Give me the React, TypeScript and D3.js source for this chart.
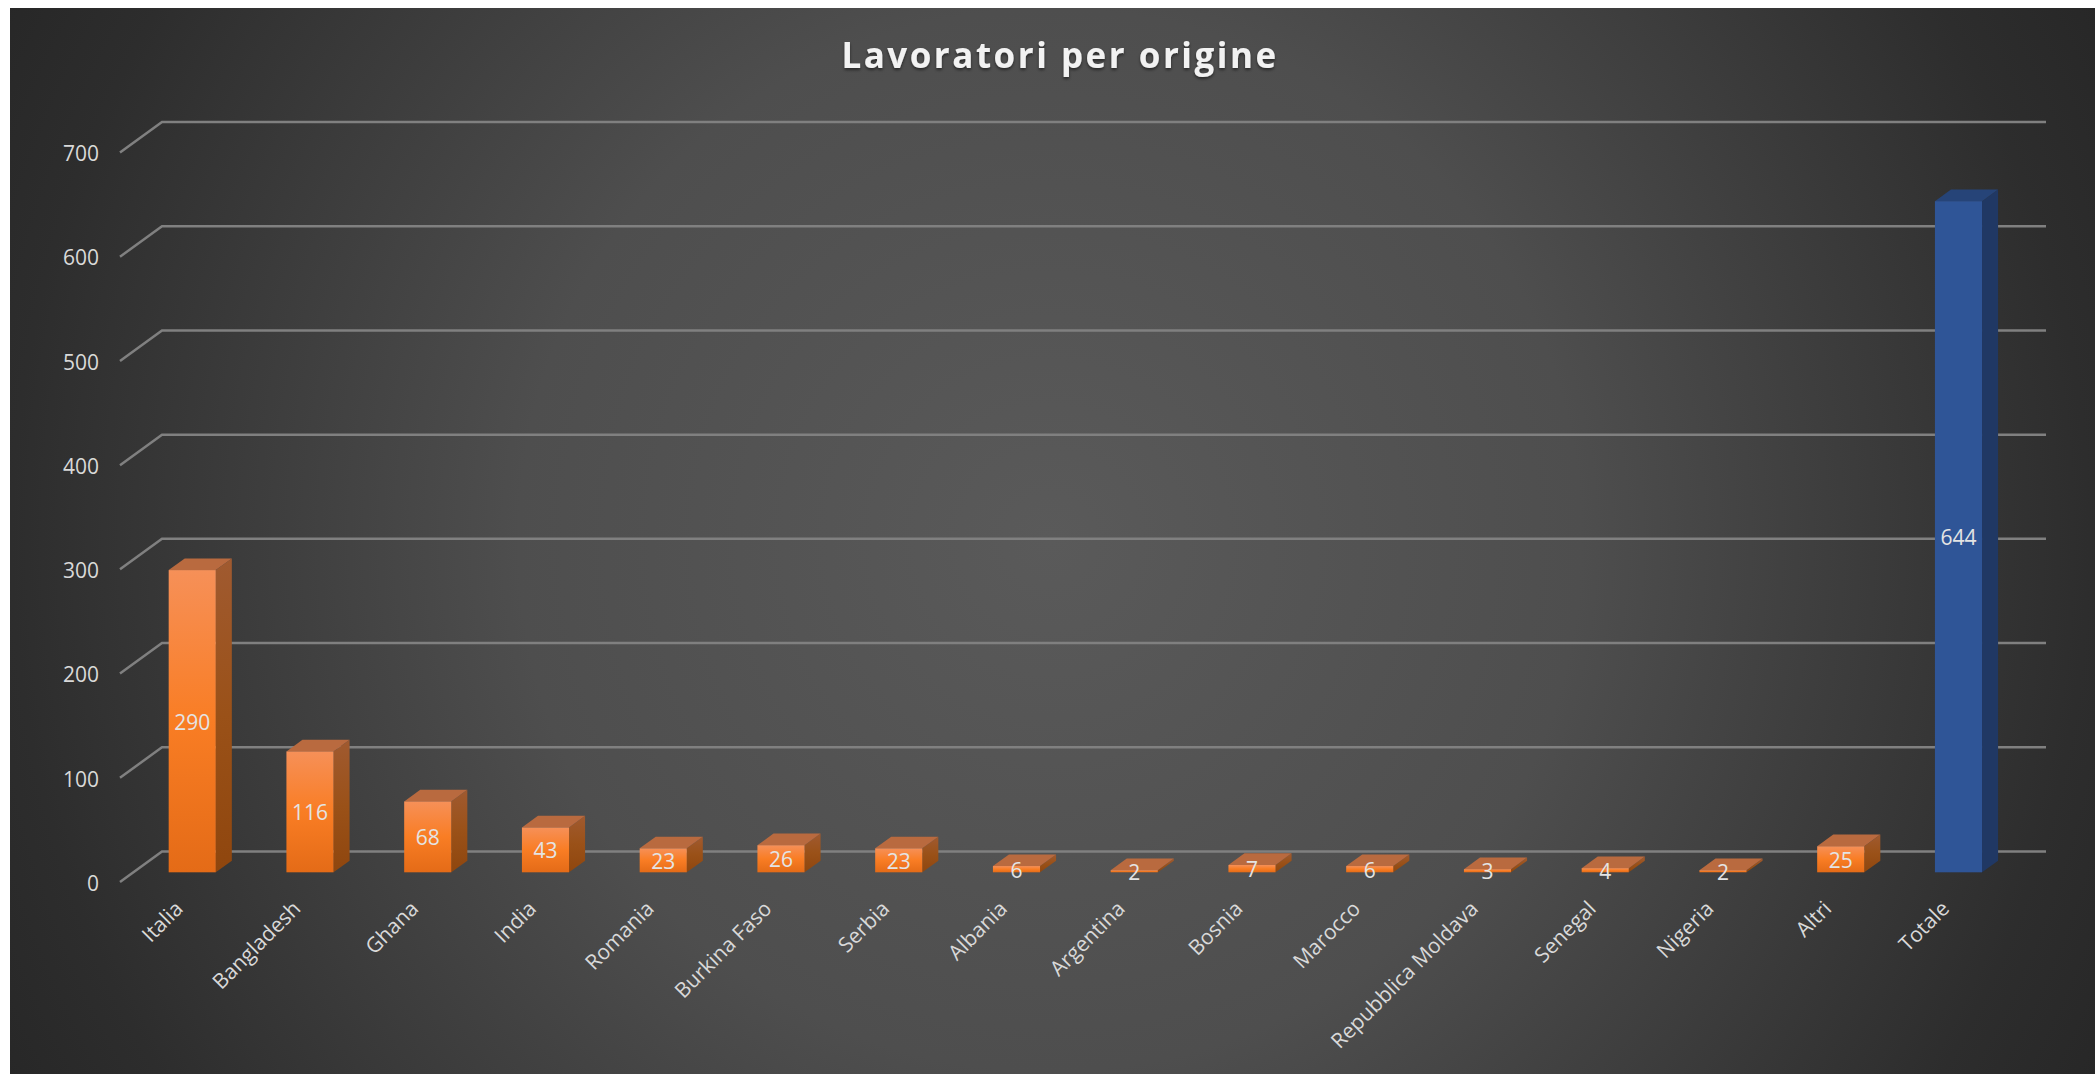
import React, { useEffect, useRef } from "react";
import * as d3 from "d3";

const title = "Lavoratori per origine";
const categories = [
  "Italia", "Bangladesh", "Ghana", "India", "Romania", "Burkina Faso", "Serbia", "Albania",
  "Argentina", "Bosnia", "Marocco", "Repubblica Moldava", "Senegal", "Nigeria", "Altri", "Totale",
];
const values = [290, 116, 68, 43, 23, 26, 23, 6, 2, 7, 6, 3, 4, 2, 25, 644];
const yTicks = [0, 100, 200, 300, 400, 500, 600, 700];
const totalCategory = "Totale";

const App = () => {
  const svgRef = useRef<SVGSVGElement>(null);

  useEffect(() => {
    const width = 2095;
    const height = 1074;
    const svg = d3.select(svgRef.current);
    svg.selectAll("*").remove();
    const font = "'Open Sans', sans-serif";

    // Front plane of the 3D box, depth goes up and to the right
    const plot = { left: 120, right: 2004, floor: 882, top: 152.5 };
    const depth = { x: 42, y: -30.5 };
    const barDepth = { front: 0.318, back: 0.7 };

    const x = d3.scaleBand<string>().domain(categories).range([plot.left, plot.right]).paddingInner(0.6).paddingOuter(0.3);
    const y = d3.scaleLinear().domain([0, 700]).range([plot.floor, plot.top]);
    const px = (vx: number, z: number) => vx + depth.x * z;
    const py = (v: number, z: number) => y(v) + depth.y * z;

    const defs = svg.append("defs");
    const bg = defs
      .append("radialGradient")
      .attr("id", "bg")
      .attr("gradientUnits", "userSpaceOnUse")
      .attr("cx", 1050)
      .attr("cy", 540)
      .attr("r", 1180);
    [
      [0, "#5a5a5a"],
      [0.45, "#4e4e4e"],
      [0.88, "#2d2d2d"],
      [1, "#272727"],
    ].forEach(([o, c]) => bg.append("stop").attr("offset", o).attr("stop-color", c));

    const addLinear = (id: string, stops: [number, string][]) => {
      const g = defs.append("linearGradient").attr("id", id).attr("x1", 0).attr("x2", 0).attr("y1", 0).attr("y2", 1);
      stops.forEach(([o, c]) => g.append("stop").attr("offset", o).attr("stop-color", c));
    };
    addLinear("orangeFront", [
      [0, "#f69058"],
      [0.5, "#f97d24"],
      [1, "#e46b17"],
    ]);
    addLinear("orangeSide", [
      [0, "#a05a30"],
      [0.5, "#9a5118"],
      [1, "#8f460e"],
    ]);

    const shadow = defs.append("filter").attr("id", "titleShadow").attr("x", "-5%").attr("y", "-20%").attr("width", "110%").attr("height", "150%");
    shadow.append("feDropShadow").attr("dx", 0).attr("dy", 2).attr("stdDeviation", 1.5).attr("flood-color", "#000").attr("flood-opacity", 0.5);

    svg.append("rect").attr("x", 10).attr("y", 8).attr("width", width - 10).attr("height", height - 8).attr("fill", "url(#bg)");

    svg
      .append("text")
      .attr("x", 1060)
      .attr("y", 68)
      .attr("text-anchor", "middle")
      .attr("font-family", font)
      .attr("font-weight", 700)
      .attr("font-size", 35)
      .attr("letter-spacing", 2.5)
      .attr("fill", "#f2f2f2")
      .attr("filter", "url(#titleShadow)")
      .text(title);

    // Gridlines: side wall then back wall
    const gridLine = d3.line();
    svg
      .append("g")
      .selectAll("path")
      .data(yTicks)
      .join("path")
      .attr("fill", "none")
      .attr("stroke", "#808080")
      .attr("stroke-width", 2.5)
      .attr("d", (d) =>
        gridLine([
          [plot.left, y(d)],
          [px(plot.left, 1), py(d, 1)],
          [px(plot.right, 1), py(d, 1)],
        ])
      );

    // Value axis labels
    const yAxis = svg
      .append("g")
      .attr("transform", `translate(${plot.left - 21},1.5)`)
      .call(d3.axisLeft(y).tickValues(yTicks).tickSize(0).tickPadding(0));
    yAxis.select(".domain").remove();
    yAxis.selectAll("text").attr("font-family", font).attr("font-size", 21).attr("fill", "#d9d9d9");

    // Bars
    const bars = svg
      .append("g")
      .selectAll("g")
      .data(categories.map((c, i) => ({ c, v: values[i] })))
      .join("g");
    const isTotal = (d: { c: string }) => d.c === totalCategory;
    const x0 = (d: { c: string }) => x(d.c)!;
    const x1 = (d: { c: string }) => x(d.c)! + x.bandwidth();
    const z0 = barDepth.front;
    const z1 = barDepth.back;

    bars
      .append("path")
      .attr("fill", (d) => (isTotal(d) ? "#203864" : "url(#orangeSide)"))
      .attr(
        "d",
        (d) =>
          gridLine([
            [px(x1(d), z0), py(d.v, z0)],
            [px(x1(d), z1), py(d.v, z1)],
            [px(x1(d), z1), py(0, z1)],
            [px(x1(d), z0), py(0, z0)],
          ]) + "Z"
      );
    bars
      .append("path")
      .attr("fill", (d) => (isTotal(d) ? "#264478" : "#b96a3f"))
      .attr(
        "d",
        (d) =>
          gridLine([
            [px(x0(d), z0), py(d.v, z0)],
            [px(x0(d), z1), py(d.v, z1)],
            [px(x1(d), z1), py(d.v, z1)],
            [px(x1(d), z0), py(d.v, z0)],
          ]) + "Z"
      );
    bars
      .append("rect")
      .attr("x", (d) => px(x0(d), z0))
      .attr("y", (d) => py(d.v, z0))
      .attr("width", x.bandwidth())
      .attr("height", (d) => y(0) - y(d.v))
      .attr("fill", (d) => (isTotal(d) ? "#2f5597" : "url(#orangeFront)"));

    // Data labels, centred on the front face
    bars
      .append("text")
      .attr("x", (d) => px(x0(d), z0) + x.bandwidth() / 2)
      .attr("y", (d) => py(d.v / 2, z0) + 1)
      .attr("dy", "0.35em")
      .attr("text-anchor", "middle")
      .attr("font-family", font)
      .attr("font-size", 21)
      .attr("fill", "#e4e4e4")
      .text((d) => d.v);

    // Category labels
    svg
      .append("g")
      .selectAll("text")
      .data(categories)
      .join("text")
      .attr("transform", (d) => `translate(${px(x(d)!, z0) + x.bandwidth() / 2 - 8},${py(0, 0) + 28}) rotate(-45)`)
      .attr("text-anchor", "end")
      .attr("font-family", font)
      .attr("font-size", 21)
      .attr("fill", "#d9d9d9")
      .text((d) => d);
  }, []);

  return <svg ref={svgRef} width={2095} height={1074} style={{ position: "absolute", left: 0, top: 0, display: "block" }} />;
};

export default App;
